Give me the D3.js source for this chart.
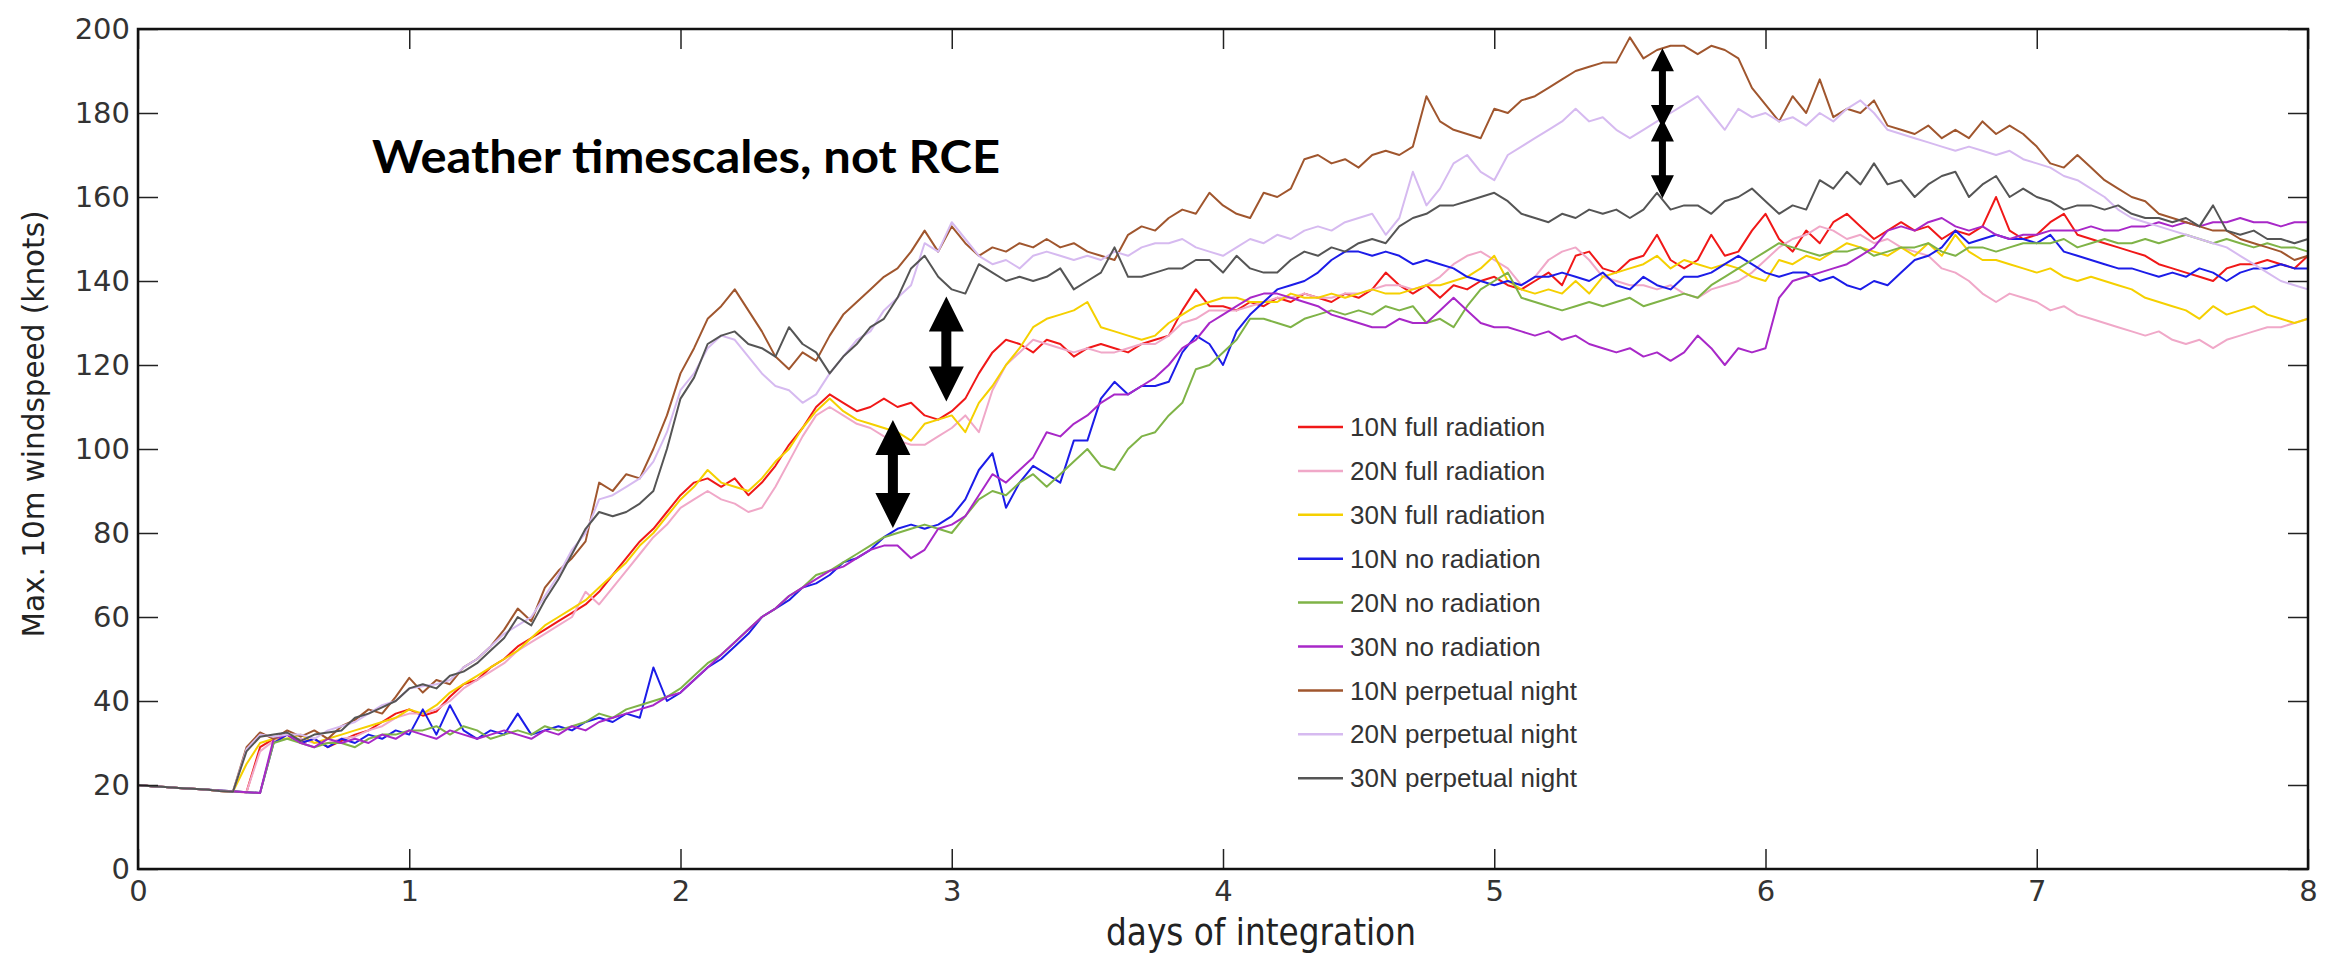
<!DOCTYPE html>
<html lang="en">
<head>
<meta charset="UTF-8">
<title>Max. 10m windspeed</title>
<script src="https://cdn.jsdelivr.net/npm/d3@7/dist/d3.min.js"></script>
<style>
    body { margin: 0; background: #fff; }
    .series { fill: none; stroke-width: 2; stroke-linejoin: round; }
    .tick text { font-family: "DejaVu Sans", sans-serif; font-size: 29px; fill: #333; }
    .tick line { stroke: #222; stroke-width: 1.5px; }
    .legend text { font-family: "Liberation Sans", Arial, sans-serif; font-size: 26px; fill: #333; }
</style>
</head>
<body>
<svg width="2341" height="958"></svg>
<script>
// sampling grid: one value every 0.05 day, 0 .. 8
var days = d3.range(161).map(function (i) { return i * 0.05; });

var seriesNames = ["10N full radiation", "20N full radiation", "30N full radiation",
    "10N no radiation", "20N no radiation", "30N no radiation",
    "10N perpetual night", "20N perpetual night", "30N perpetual night"];
var seriesColors = ["#f01818", "#f0a8c8", "#f5d000", "#1c1ce8", "#7fb347", "#a828c8",
    "#a0562e", "#d6baf0", "#555555"];

// values, one row per day
var full10 = [20,19.7,19.5,19.3,19.1,18.9,18.6,18.4,18.3,29, 31,32,30,31,29,30.5,32,33,35,37,
    38,36.5,37.5,41,44,45,48,50,53,55, 57,59,61,63,66,70,74,78,81,85,
    89,92,93,91,93,89,92,96,101,105, 110,113,111,109,110,112,110,111,108,107,
    109,112,118,123,126,125,123,126,125,122, 124,125,124,123,125,126,127,133,138,134,
    134,133,135,134,136,135,137,136,135,137, 136,138,142,139,137,139,136,139,138,140,
    141,139,138,140,142,139,146,147,143,142, 145,146,151,145,143,145,151,146,147,152,
    156,150,147,152,149,154,156,153,150,152, 154,152,153,150,152,151,153,160,152,150,
    151,154,156,151,150,149,148,147,146,144, 143,142,141,140,143,144,144,145,144,143,
    146];
var full20 = [20,19.7,19.5,19.3,19.1,18.9,18.6,18.4,18.3,28, 30.5,31,31,30,30,31,31.5,33,34,36,
    37,37,38,40,43,45,47,49,52,54, 56,58,60,66,63,67,71,75,79,82,
    86,88,90,88,87,85,86,91,97,103, 108,110,108,106,105,103,102,101,101,103,
    105,108,104,114,120,123,126,125,124,123, 124,123,123,124,125,125,127,130,131,133,
    133,133,134,135,136,136,137,136,136,137, 137,138,139,139,138,139,141,144,146,147,
    145,143,139,141,145,147,148,145,141,140, 139,139,138,139,137,136,138,139,140,142,
    145,148,150,151,153,152,150,151,149,150, 148,147,146,143,142,140,137,135,137,136,
    135,133,134,132,131,130,129,128,127,128, 126,125,126,124,126,127,128,129,129,130,
    131];
var full30 = [20,19.7,19.5,19.3,19.1,18.9,18.6,18.4,25,30, 31,31,32,30,31,32,33,34,35,36,
    38,37,39,42,44,46,48,50,52,55, 58,60,62,64,67,70,73,77,80,84,
    88,91,95,92,91,90,93,97,100,105, 109,112,109,107,106,105,104,102,106,107,
    108,104,111,115,120,124,129,131,132,133, 135,129,128,127,126,127,130,132,134,135,
    136,136,135,135,135,137,136,136,137,136, 137,138,137,137,138,139,139,140,141,143,
    146,140,138,137,138,137,140,137,141,142, 143,144,146,143,145,144,143,144,143,141,
    140,145,144,146,145,147,149,148,147,146, 148,146,149,146,151,147,145,145,144,143,
    142,143,141,140,141,140,139,138,136,135, 134,133,131,134,132,133,134,132,131,130,
    131];
var noRad10 = [20,19.7,19.5,19.3,19.1,18.9,18.7,18.5,18.3,18.1, 30,32,30,31,29,31,30,32,31,33,
    32,38,32,39,33,31,33,32,37,32, 33,34,33,35,36,35,37,36,48,40,
    42,45,48,50,53,56,60,62,64,67, 68,70,73,74,76,79,81,82,81,82,
    84,88,95,99,86,92,96,94,92,102, 102,112,116,113,115,115,116,123,127,125,
    120,128,132,135,138,139,140,142,145,147, 147,146,147,146,144,145,144,143,141,140,
    139,140,139,141,141,142,141,140,142,139, 138,141,139,138,141,141,142,144,146,144,
    142,141,142,142,140,141,139,138,140,139, 142,145,146,148,152,149,150,151,150,150,
    149,151,147,146,145,144,143,143,142,141, 142,141,143,142,140,142,143,143,144,143,
    143];
var noRad20 = [20,19.7,19.5,19.3,19.1,18.9,18.7,18.5,18.3,18.1, 30,31,30,29,30,30,29,31,32,32,
    33,33,34,32,34,33,31,32,33,32, 34,33,34,35,37,36,38,39,40,41,
    43,46,49,51,54,57,60,62,65,67, 70,71,73,75,77,79,80,81,82,81,
    80,84,88,90,89,92,94,91,94,97, 100,96,95,100,103,104,108,111,119,120,
    123,126,131,131,130,129,131,132,133,132, 133,132,134,133,134,130,131,129,134,138,
    140,142,136,135,134,133,134,135,134,135, 136,134,135,136,137,136,139,141,143,145,
    147,149,148,147,146,147,147,148,146,147, 148,148,149,147,146,148,148,147,148,149,
    149,149,150,148,149,150,149,149,150,149, 150,151,150,149,150,149,148,149,148,148,
    147];
var noRad30 = [20,19.7,19.5,19.3,19.1,18.9,18.7,18.5,18.3,18.1, 31,32,30,29,31,30,31,30,32,31,
    33,32,31,33,32,31,32,33,32,31, 33,32,34,33,35,36,37,38,39,41,
    42,45,48,51,54,57,60,62,65,67, 69,71,72,74,76,77,77,74,76,81,
    82,84,89,94,92,95,98,104,103,106, 108,111,113,113,115,117,120,124,126,130,
    132,134,136,137,137,136,135,134,132,131, 130,129,129,131,130,130,133,136,133,130,
    129,129,128,127,128,126,127,125,124,123, 124,122,123,121,123,127,124,120,124,123,
    124,136,140,141,142,143,144,146,148,152, 153,152,154,155,153,152,153,151,150,151,
    151,152,152,152,153,152,152,153,153,154, 153,154,153,154,154,155,154,154,153,154,
    154];
var night10 = [20,19.7,19.5,19.3,19.1,18.9,18.6,18.4,29,32.5, 31,33,31.5,33,31,34,35.5,38,37,41,
    45.5,42,45,44,48,50,53,57,62,59, 67,71,74,78,92,90,94,93,100,108,
    118,124,131,134,138,133,128,122,119,123, 121,127,132,135,138,141,143,147,152,147,
    153,149,146,148,147,149,148,150,148,149, 147,146,145,151,153,152,155,157,156,161,
    158,156,155,161,160,162,169,170,168,169, 167,170,171,170,172,184,178,176,175,174,
    181,180,183,184,186,188,190,191,192,192, 198,193,195,196,196,194,196,195,193,186,
    182,178,184,180,188,179,181,180,183,177, 176,175,177,174,176,174,178,175,177,175,
    172,168,167,170,167,164,162,160,159,156, 155,154,153,152,152,150,149,148,147,145,
    146];
var night20 = [20,19.7,19.5,19.3,19.1,18.9,18.6,18.4,28.5,32, 31.5,32,32,31,33,34,35,37,39,40,
    43,43.5,44,45,48,50,53,56,58,60, 65,70,76,80,88,89,91,93,97,104,
    114,118,124,127,126,122,118,115,114,111, 113,118,122,126,128,133,136,139,149,147,
    154,150,146,144,145,143,146,147,146,145, 146,145,147,146,148,149,149,150,148,147,
    146,148,150,149,151,150,152,153,152,154, 155,156,151,155,166,158,162,168,170,166,
    164,170,172,174,176,178,181,178,179,176, 174,176,178,180,182,184,180,176,181,179,
    180,178,179,177,180,178,181,183,180,176, 175,174,173,172,171,172,171,170,171,169,
    168,167,165,164,162,160,157,155,154,153, 152,151,150,149,148,146,144,142,140,139,
    138];
var night30 = [20,19.7,19.5,19.3,19.1,18.9,18.6,18.4,28,31.5, 32,32.5,30.5,32,32.5,33,36,37,38.5,40,
    43,44,43,46,47,49,52,55,60,58, 64,69,75,81,85,84,85,87,90,100,
    112,117,125,127,128,125,124,122,129,125, 123,118,122,125,129,131,136,143,146,141,
    138,137,144,142,140,141,140,141,143,138, 140,142,148,141,141,142,143,143,145,145,
    142,146,143,142,142,145,147,146,148,147, 149,150,149,153,155,156,158,158,159,160,
    161,159,156,155,154,156,155,157,156,157, 155,157,161,157,158,158,156,159,160,162,
    159,156,158,157,164,162,166,163,168,163, 164,160,163,165,166,160,163,165,160,162,
    160,159,157,158,158,157,158,156,155,155, 154,155,153,158,152,151,152,150,150,149,
    150];

var seriesValues = [full10, full20, full30, noRad10, noRad20, noRad30, night10, night20, night30];

var xTicks = [0, 1, 2, 3, 4, 5, 6, 7, 8];
var yTicks = [0, 20, 40, 60, 80, 100, 120, 140, 160, 180, 200];

// double arrows drawn on the figure: day, upper value, lower value
var arrowDays = [2.98, 2.783, 5.62, 5.62];
var arrowTops = [136.3, 106.9, 195.4, 178.7];
var arrowBottoms = [111.3, 81.2, 176.4, 159.7];
var arrowBig = [true, true, false, false];

var svg = d3.select("svg"),
    margin = { top: 29, right: 33, bottom: 89, left: 138 },
    width = +svg.attr("width") - margin.left - margin.right,
    height = +svg.attr("height") - margin.top - margin.bottom,
    g = svg.append("g").attr("transform", "translate(" + margin.left + "," + margin.top + ")");

var x = d3.scaleLinear().domain([0, 8]).range([0, width]);
var y = d3.scaleLinear().domain([0, 200]).range([height, 0]);

var line = d3.line()
    .x(function (d, i) { return x(days[i]); })
    .y(function (d) { return y(d); });

g.append("g").selectAll("path")
    .data(seriesValues)
    .enter().append("path")
    .attr("class", "series")
    .attr("stroke", function (d, i) { return seriesColors[i]; })
    .attr("d", line);

// axes, ticks pointing inward on all four sides
g.append("g")
    .attr("transform", "translate(0," + height + ")")
    .call(d3.axisBottom(x).tickValues(xTicks).tickSize(-20).tickPadding(11).tickFormat(d3.format("d")));
g.append("g")
    .call(d3.axisTop(x).tickValues(xTicks).tickSize(-20).tickFormat(""));
g.append("g")
    .call(d3.axisLeft(y).tickValues(yTicks).tickSize(-20).tickPadding(8).tickFormat(d3.format("d")));
g.append("g")
    .attr("transform", "translate(" + width + ",0)")
    .call(d3.axisRight(y).tickValues(yTicks).tickSize(-20).tickFormat(""));
g.selectAll(".domain").remove();

g.append("rect")
    .attr("width", width)
    .attr("height", height)
    .attr("fill", "none")
    .attr("stroke", "#111")
    .attr("stroke-width", 2.5);

// axis titles
svg.append("text")
    .attr("x", margin.left + x(4.14))
    .attr("y", 945)
    .attr("text-anchor", "middle")
    .attr("font-family", "DejaVu Sans, sans-serif")
    .attr("font-size", 38)
    .attr("textLength", 310)
    .attr("lengthAdjust", "spacingAndGlyphs")
    .attr("fill", "#222")
    .text("days of integration");

svg.append("text")
    .attr("transform", "translate(44," + 424 + ") rotate(-90)")
    .attr("text-anchor", "middle")
    .attr("font-family", "DejaVu Sans, sans-serif")
    .attr("font-size", 31)
    .attr("textLength", 427)
    .attr("lengthAdjust", "spacingAndGlyphs")
    .attr("fill", "#222")
    .text("Max.  10m windspeed (knots)");

// legend
var legend = svg.append("g").attr("class", "legend")
    .attr("transform", "translate(1298,427)");
var row = legend.selectAll("g")
    .data(seriesNames)
    .enter().append("g")
    .attr("transform", function (d, i) { return "translate(0," + (i * 43.9) + ")"; });
row.append("line")
    .attr("x1", 0).attr("x2", 45)
    .attr("stroke-width", 2.5)
    .attr("stroke", function (d, i) { return seriesColors[i]; });
row.append("text")
    .attr("x", 52)
    .attr("dy", "0.35em")
    .text(function (d) { return d; });

// annotation
svg.append("text")
    .attr("x", 372)
    .attr("y", 173)
    .attr("font-family", "Lato, sans-serif")
    .attr("font-weight", 700)
    .attr("font-size", 46)
    .attr("textLength", 628)
    .attr("lengthAdjust", "spacingAndGlyphs")
    .attr("fill", "#000")
    .text("Weather timescales, not RCE");

function arrowPath(i) {
    var cx = x(arrowDays[i]), y1 = y(arrowTops[i]), y2 = y(arrowBottoms[i]);
    var sw = arrowBig[i] ? 5 : 3.5,
        hw = arrowBig[i] ? 17.5 : 11.5,
        hl = arrowBig[i] ? 35 : 23;
    var pts = [[cx, y1], [cx + hw, y1 + hl], [cx + sw, y1 + hl], [cx + sw, y2 - hl], [cx + hw, y2 - hl],
        [cx, y2], [cx - hw, y2 - hl], [cx - sw, y2 - hl], [cx - sw, y1 + hl], [cx - hw, y1 + hl]];
    return "M" + pts.map(function (p) { return p[0] + "," + p[1]; }).join("L") + "Z";
}

g.append("g").selectAll("path")
    .data(arrowDays)
    .enter().append("path")
    .attr("d", function (d, i) { return arrowPath(i); })
    .attr("fill", "#000");
</script>
</body>
</html>
